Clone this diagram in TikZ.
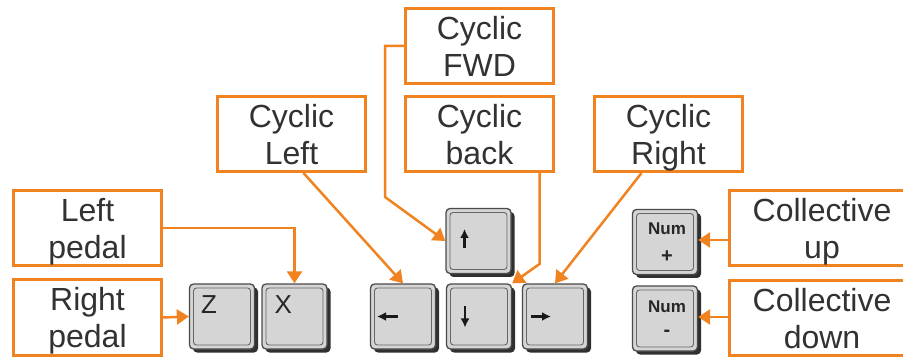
\documentclass[tikz,border=0pt]{standalone}
\usepackage{fontspec}
\setmainfont{Liberation Sans}
\usetikzlibrary{arrows.meta,positioning,calc,shadows}
\definecolor{cOrange} {RGB}{240,130,32}
\definecolor{cText}   {RGB}{50,50,50}
\definecolor{cKey}    {RGB}{213,213,213}
\definecolor{cKeyEdge}{RGB}{75,75,75}
\newcommand{\twoline}[2]{\rule{0pt}{31pt}#1\\#2\rule[-7pt]{0pt}{7pt}}
\tikzset{
  >={Triangle[length=12pt,width=15pt]},
  tag/.style={draw=cOrange,line width=3pt,minimum width=148pt,minimum height=73pt,
              inner sep=0pt,align=center,text=cText,
              font=\fontsize{32}{37}\selectfont},                % orange label box
  wtag/.style={tag,minimum width=185pt},                         % wide label box
  conn/.style={->,draw=cOrange,line width=2.5pt},                % label-to-key arrow
  key/.style={draw=cKeyEdge,line width=1.3pt,fill=cKey,rounded corners=4pt,
              minimum width=65pt,minimum height=65pt,inner sep=0pt,
              drop shadow={shadow xshift=3.5pt,shadow yshift=-3.5pt,
                           fill=black!90,opacity=.9},
              path picture={\draw[cKeyEdge!85,line width=.9pt,rounded corners=3pt]
                ([shift={(4pt,4pt)}]path picture bounding box.south west) rectangle
                ([shift={(-4pt,-4pt)}]path picture bounding box.north east);}}, % keycap
  keytxt/.style={inner sep=0pt,anchor=base west,text=black!85,
                 font=\fontsize{26}{26}\selectfont},             % letter on a key
  numtxt/.style={inner sep=0pt,text=black!85,
                 font=\bfseries\fontsize{17}{17}\selectfont},     % numpad legend
  glyph/.style={-{Latex[length=9pt,width=9pt]},line width=2.3pt,black!90}, % arrow legend
}
\begin{document}
\begin{tikzpicture}[x=1pt,y=-1pt]
  \useasboundingbox (0,0) rectangle (903,358);
  % ---- label boxes ----
  \node[tag]  (fwd)    at (479.5,46)  {\twoline{Cyclic}{FWD}};
  \node[tag]  (back)   at (479.5,134) {\twoline{Cyclic}{back}};
  \node[tag]  (cleft)  at (291.5,134) {\twoline{Cyclic}{Left}};
  \node[tag]  (cright) at (668.5,134) {\twoline{Cyclic}{Right}};
  \node[tag]  (lpedal) at (87.5,228)  {\twoline{Left}{pedal}};
  \node[tag]  (rpedal) at (87.5,317.5){\twoline{Right}{pedal}};
  \node[wtag] (colup)  at (822,228.5) {\twoline{Collective}{up}};
  \node[wtag] (coldn)  at (822,318)   {\twoline{Collective}{down}};

  % ---- keys ----
  \node[key] (zkey)     at (222,316.5) {};
  \node[key] (xkey)     at (294.5,316.5) {};
  \node[key] (upkey)    at (478.5,241) {};
  \node[key] (leftkey)  at (403,316.5) {};
  \node[key] (downkey)  at (479,316.5) {};
  \node[key] (rightkey) at (555,316.5) {};
  \node[key] (numplus)  at (665,242)   {};
  \node[key] (numminus) at (665,318.5) {};

  % ---- key legends ----
  \node[keytxt] (zlbl) at ($(zkey.west)+(12,-3.5)$) {Z};
  \node[keytxt] (xlbl) at ($(xkey.west)+(13,-3.5)$) {X};
  \draw[glyph] ($(upkey.center)+(-14,7)$)     -- ($(upkey.center)+(-14,-12)$);
  \draw[glyph] ($(downkey.center)+(-14,-10)$) -- ($(downkey.center)+(-14,11)$);
  \draw[glyph] ($(leftkey.center)+(-5,0)$)    -- ($(leftkey.center)+(-26,0)$);
  \draw[glyph] ($(rightkey.center)+(-24,0)$)  -- ($(rightkey.center)+(-4,0)$);
  \node[numtxt] (npnum) at ($(numplus.center)+(2,-13)$)  {Num};
  \node[numtxt,font=\bfseries\fontsize{20}{20}\selectfont] (npsym) at ($(numplus.center)+(2,15)$) {+};
  \node[numtxt] (nmnum) at ($(numminus.center)+(2,-12)$) {Num};
  \node[numtxt,font=\bfseries\fontsize{20}{20}\selectfont] (nmsym) at ($(numminus.center)+(2,15)$) {-};

  % ---- connectors ----
  \coordinate (fwdbend) at (385,197);
  \draw[conn] (lpedal.east) -| (xkey.north);
  \draw[conn] (rpedal.east) -- (zkey.west);
  \draw[conn] (fwd.west) -| (fwdbend) -- (upkey.west);
  \draw[conn] ($(cleft.south)+(12,0)$) -- (leftkey.north);
  \draw[conn] ($(back.south)+(60,0)$) -- ++(0,91) -- (downkey.north east);
  \draw[conn] ($(cright.south)+(-27,0)$) -- (rightkey.north);
  \draw[conn] (colup.west |- 0,240) -- (numplus.east |- 0,240);
  \draw[conn] (coldn.west |- 0,317) -- (numminus.east |- 0,317);
\end{tikzpicture}
\end{document}
